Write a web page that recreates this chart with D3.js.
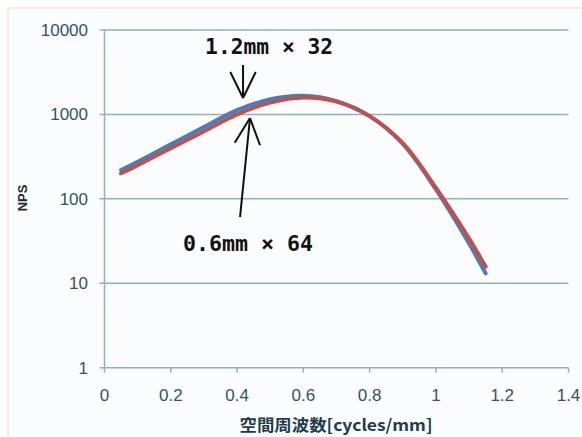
<!DOCTYPE html>
<html><head><meta charset="utf-8">
<script src="https://cdn.jsdelivr.net/npm/d3@7"></script>
<style>html,body{margin:0;padding:0;background:#fff;}svg{display:block;}</style>
</head><body>
<svg id="chart" width="582" height="437"></svg>
<script>
// ---- data ----
const freq = [0.05, 0.1, 0.2, 0.3, 0.4, 0.5, 0.6, 0.7, 0.8, 0.9, 1.0, 1.1, 1.15];
const nps12x32 = [220, 275, 442, 708, 1122, 1514, 1667, 1440, 955, 447, 129, 29.5, 13.1];
const nps06x64 = [201, 251, 398, 631, 1000, 1380, 1585, 1420, 955, 457, 135, 33.9, 15.7];
const xTicks = [0, 0.2, 0.4, 0.6, 0.8, 1, 1.2, 1.4];
const yTicks = [1, 10, 100, 1000, 10000];
const xTitle = "空間周波数[cycles/mm]";
const yTitle = "NPS";
const labels = ["1.2mm × 32", "0.6mm × 64"];
const labelPos = [[0.3035, 5190], [0.237, 24.1]];
const arrowTip = [[0.418, 1563], [0.439, 906]];
const arrowTail = [[0.418, 3850], [0.409, 60.8]];

// ---- chart ----
const svg = d3.select("#chart");
svg.append("rect").attr("x", 0).attr("y", 0).attr("width", 582).attr("height", 437).attr("fill", "#ffffff");
svg.append("rect").attr("x", 8).attr("y", 8).attr("width", 590).attr("height", 440)
  .attr("fill", "#fbfcfe").attr("stroke", "#f6dcd2").attr("stroke-width", 1.2);

const x = d3.scaleLinear().domain([0, 1.4]).range([104.5, 568.5]);
const y = d3.scaleLog().domain([1, 10000]).range([367.7, 30]);

const gridColor = "#8db2c8";
const tickColor = "#2f5466";

svg.append("g").selectAll("line").data(yTicks).join("line")
  .attr("x1", x(0) - 5).attr("x2", x(1.4))
  .attr("y1", d => y(d)).attr("y2", d => y(d))
  .attr("stroke", gridColor).attr("stroke-width", 1.5);

svg.append("line").attr("x1", x(0)).attr("x2", x(0)).attr("y1", y(10000)).attr("y2", y(1))
  .attr("stroke", gridColor).attr("stroke-width", 1.5);

svg.append("g").selectAll("line").data(xTicks).join("line")
  .attr("x1", d => x(d)).attr("x2", d => x(d))
  .attr("y1", y(1)).attr("y2", y(1) + 5)
  .attr("stroke", gridColor).attr("stroke-width", 1.5);

svg.append("g").selectAll("text").data(yTicks).join("text")
  .attr("x", 88).attr("y", d => y(d)).attr("dy", "0.35em")
  .attr("text-anchor", "end")
  .attr("font-family", "Liberation Sans, Arial, sans-serif").attr("font-size", 17)
  .attr("fill", tickColor).text(d => d);

svg.append("g").selectAll("text").data(xTicks).join("text")
  .attr("x", d => x(d)).attr("y", 401)
  .attr("text-anchor", "middle")
  .attr("font-family", "Liberation Sans, Arial, sans-serif").attr("font-size", 17)
  .attr("fill", tickColor).text(d => d);

svg.append("text").attr("x", 336).attr("y", 431).attr("text-anchor", "middle")
  .attr("font-family", "Noto Sans CJK JP, sans-serif").attr("font-size", 16).attr("font-weight", "bold")
  .attr("fill", "#1d3d4e").attr("textLength", 193).attr("lengthAdjust", "spacingAndGlyphs")
  .text(xTitle);
svg.append("text").attr("transform", "translate(27,198) rotate(-90)").attr("text-anchor", "middle")
  .attr("font-family", "Liberation Sans, Arial, sans-serif").attr("font-size", 13).attr("font-weight", "bold")
  .attr("fill", "#1a2a36").text(yTitle);

const line = d3.line().x(d => x(d[0])).y(d => y(d[1])).curve(d3.curveCatmullRom.alpha(0.5));
const series = [
  {vals: nps12x32, color: "#4a7ebb"},
  {vals: nps06x64, color: "#c0504d"}
];
svg.append("g").selectAll("path").data(series).join("path")
  .attr("d", s => line(freq.map((f, i) => [f, s.vals[i]])))
  .attr("fill", "none").attr("stroke", s => s.color).attr("stroke-width", 4)
  .attr("stroke-linecap", "round");

const ann = svg.append("g");
labels.forEach((t, i) => {
  ann.append("text").attr("x", x(labelPos[i][0])).attr("y", y(labelPos[i][1]))
    .attr("font-family", "DejaVu Sans Mono, monospace").attr("font-size", 22).attr("font-weight", "bold")
    .attr("fill", "#111").attr("textLength", i === 0 ? 128 : 130).attr("lengthAdjust", "spacingAndGlyphs")
    .text(t);
  const tx = x(arrowTip[i][0]), ty = y(arrowTip[i][1]);
  const sx = x(arrowTail[i][0]), sy = y(arrowTail[i][1]);
  ann.append("line").attr("x1", sx).attr("y1", sy).attr("x2", tx).attr("y2", ty)
    .attr("stroke", "#111").attr("stroke-width", 2);
  const ang = Math.atan2(sy - ty, sx - tx);
  const len = 29, spread = 26 * Math.PI / 180;
  [-1, 1].forEach(s => {
    ann.append("line").attr("x1", tx).attr("y1", ty)
      .attr("x2", tx + len * Math.cos(ang + s * spread))
      .attr("y2", ty + len * Math.sin(ang + s * spread))
      .attr("stroke", "#111").attr("stroke-width", 2);
  });
});
</script>
</body></html>
